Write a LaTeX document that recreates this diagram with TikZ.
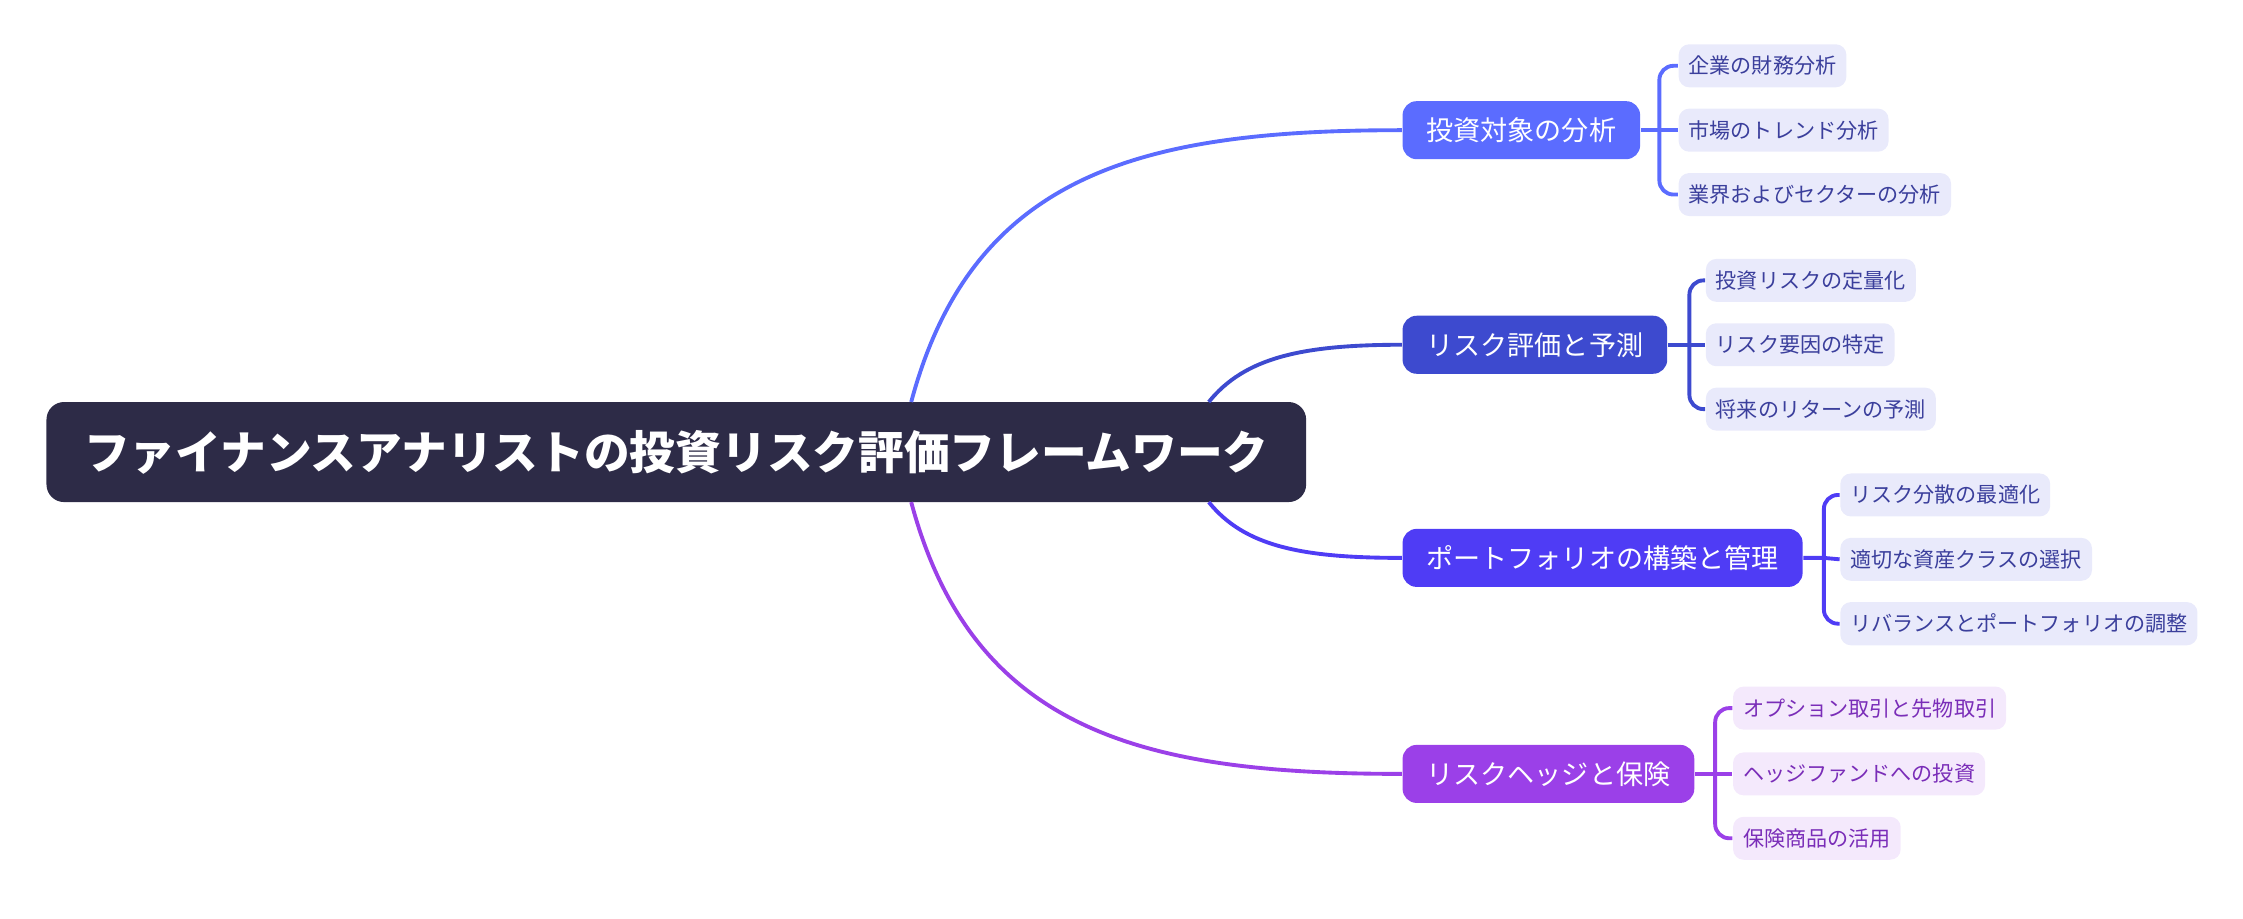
\documentclass[tikz,border=0pt]{standalone}
\usepackage{fontspec}
\setmainfont{Noto Sans CJK JP}
\usetikzlibrary{calc}
\definecolor{cA}{HTML}{5B6CFF}
\definecolor{cB}{HTML}{3D4ACF}
\definecolor{cC}{HTML}{4F3CF5}
\definecolor{cD}{HTML}{9B40E8}
\definecolor{root}{HTML}{2D2B47}
\definecolor{lfB}{HTML}{E9EAFB}
\definecolor{lfP}{HTML}{F4E9FC}
\definecolor{ltB}{HTML}{3B3F9C}
\definecolor{ltP}{HTML}{7A2DB8}
\tikzset{
  rootbox/.style={fill=root,text=white,rounded corners=5pt,font=\fontsize{13}{15}\selectfont\bfseries,minimum height=1.0cm,minimum width=12.59cm,anchor=west},
  branch/.style={fill=#1,text=white,rounded corners=4pt,font=\fontsize{7.7}{9}\selectfont,minimum height=0.58cm,inner xsep=0.24cm,anchor=west},
  leaf/.style={fill=lfB,text=ltB,rounded corners=3pt,font=\fontsize{6}{7}\selectfont,minimum height=0.38cm,inner xsep=0.1cm,anchor=west},
  leafp/.style={leaf,fill=lfP,text=ltP},
  conn/.style={draw=#1,line width=1.1pt},
  brk/.style={draw=#1,line width=1.1pt,rounded corners=4pt},
}
\begin{document}
\begin{tikzpicture}[x=0.014305cm,y=-0.014305cm]
\useasboundingbox (0,0) rectangle (1568,642);
\node[rootbox] (r) at (32,316) {ファイナンスアナリストの投資リスク評価フレームワーク};
\node[branch=cA] (b1) at (980,91) {投資対象の分析};
\node[branch=cB] (b2) at (980,241) {リスク評価と予測};
\node[branch=cC] (b3) at (980,390) {ポートフォリオの構築と管理};
\node[branch=cD] (b4) at (980,541) {リスクヘッジと保険};
\coordinate (r1) at (637,281);
\coordinate (r2) at (845,281);
\coordinate (r3) at (845,351);
\coordinate (r4) at (637,351);
\draw[conn=cA] (r1) .. controls (680,120) and (800,91) .. (b1.west);
\draw[conn=cB] (r2) .. controls (870,250) and (910,241) .. (b2.west);
\draw[conn=cC] (r3) .. controls (870,382) and (910,390) .. (b3.west);
\draw[conn=cD] (r4) .. controls (680,512) and (800,541) .. (b4.west);
% leaves
\node[leaf] (l11) at (1173,46) {企業の財務分析};
\node[leaf] (l12) at (1173,91) {市場のトレンド分析};
\node[leaf] (l13) at (1173,136) {業界およびセクターの分析};
\node[leaf] (l21) at (1192,196) {投資リスクの定量化};
\node[leaf] (l22) at (1192,241) {リスク要因の特定};
\node[leaf] (l23) at (1192,286) {将来のリターンの予測};
\node[leaf] (l31) at (1286,346) {リスク分散の最適化};
\node[leaf] (l32) at (1286,391) {適切な資産クラスの選択};
\node[leaf] (l33) at (1286,436) {リバランスとポートフォリオの調整};
\node[leafp] (l41) at (1211,495) {オプション取引と先物取引};
\node[leafp] (l42) at (1211,541) {ヘッジファンドへの投資};
\node[leafp] (l43) at (1211,586) {保険商品の活用};
\coordinate (k1) at (1160,91);
\coordinate (k2) at (1181,241);
\coordinate (k3) at (1275,390);
\coordinate (k4) at (1199,541);
\draw[conn=cA] (b1.east) -- (l12.west);
\draw[brk=cA] (l11.west) -| (k1) |- (l13.west);
\draw[conn=cB] (b2.east) -- (l22.west);
\draw[brk=cB] (l21.west) -| (k2) |- (l23.west);
\draw[conn=cC] (b3.east) -- (k3) -- (l32.west);
\draw[brk=cC] (l31.west) -| (k3) |- (l33.west);
\draw[conn=cD] (b4.east) -- (l42.west);
\draw[brk=cD] (l41.west) -| (k4) |- (l43.west);
\end{tikzpicture}
\end{document}
